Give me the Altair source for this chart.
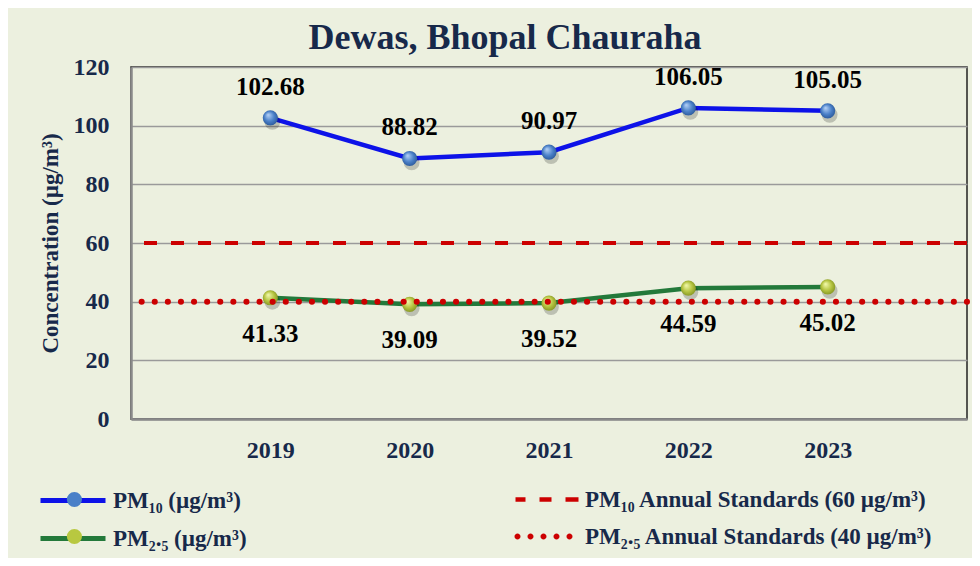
import altair as alt
import pandas as pd

# ---- data ----
years = ["2019", "2020", "2021", "2022", "2023"]
pm10 = [102.68, 88.82, 90.97, 106.05, 105.05]
pm25 = [41.33, 39.09, 39.52, 44.59, 45.02]
std_values = [60, 40]

S10 = "PM₁₀ (µg/m³)"
S25 = "PM₂.₅ (µg/m³)"
STD10 = "PM₁₀ Annual Standards (60 µg/m³)"
STD25 = "PM₂.₅ Annual Standards (40 µg/m³)"
series_names = [S10, S25]
std_names = [STD10, STD25]

df = pd.DataFrame({
    "year": years * 2,
    "value": pm10 + pm25,
    "series": [S10] * len(years) + [S25] * len(years),
    "key": ["pm10"] * len(years) + ["pm25"] * len(years),
})
std_df = pd.DataFrame({"std": std_names, "value": std_values, "key": ["s10", "s25"]})

FONT = "Liberation Serif"
NAVY = "#17294a"
RED = "#cc0000"
BLUE = "#0d12e8"
GREEN = "#23793a"

x = alt.X("year:O", scale=alt.Scale(type="point", padding=1),
          axis=alt.Axis(title=None, labelAngle=0, grid=False, ticks=False,
                        labelPadding=19, domainColor="#8a8a8a", domainWidth=2.5))
y = alt.Y("value:Q", scale=alt.Scale(domain=[0, 120]),
          axis=alt.Axis(values=list(range(0, 121, 20)), title="Concentration (µg/m³)",
                        ticks=False, labelPadding=22, titlePadding=11,
                        domainColor="#8a8a8a", domainWidth=2.5,
                        gridColor="#9a9a9a", gridWidth=1.5))

# legend geometry (symbols drawn wider than their nominal size, so rows stay compact)
LEG_X, LEG_Y = -93, 421
LEG_X2 = 381
NOM = 400          # nominal symbol size -> 20 px box, unit = 10 px
common_leg = dict(title=None, orient="none", direction="vertical",
                  labelFont=FONT, labelFontSize=23, labelFontWeight="bold",
                  labelColor=NAVY, rowPadding=13, labelLimit=500)

LINE_PATH = "M-1,0H5.5"     # 65 px wide line starting at the box's left edge

lines = alt.Chart(df).mark_line(strokeWidth=4.5).encode(
    x=x, y=y,
    color=alt.Color("series:N", scale=alt.Scale(domain=series_names, range=[BLUE, GREEN]),
                    legend=alt.Legend(legendX=LEG_X, legendY=LEG_Y, symbolType=LINE_PATH,
                                      symbolSize=NOM, symbolStrokeWidth=5, labelOffset=50,
                                      zindex=1, **common_leg)),
)

# invisible layer that only provides the ball symbols of the legend
ball_leg = alt.Chart(df).mark_circle(opacity=0, size=10).encode(
    x=x, y=y,
    fill=alt.Fill("key:N", scale=alt.Scale(domain=["pm10", "pm25"], range=["#4a80c8", "#b8c840"]),
                  legend=alt.Legend(legendX=LEG_X + 32.5 - 7.6, legendY=LEG_Y, symbolType="circle",
                                    symbolSize=230, symbolStrokeWidth=0, symbolOpacity=1,
                                    labelExpr="''", labelOffset=8, zindex=2, **common_leg)),
)


def balls(key, c0, c1, c2):
    grad = alt.RadialGradient(
        gradient="radial",
        stops=[alt.GradientStop(offset=0, color=c0),
               alt.GradientStop(offset=0.55, color=c1),
               alt.GradientStop(offset=1, color=c2)],
        x1=0.35, y1=0.3, r1=0, x2=0.5, y2=0.5, r2=0.6)
    base = alt.Chart(df).transform_filter(alt.datum.key == key)
    shadow = base.mark_circle(size=250, color="#000000", opacity=0.2,
                              xOffset=2, yOffset=4).encode(x=x, y=y)
    ball = base.mark_circle(size=230, fill=grad, opacity=1).encode(x=x, y=y)
    return shadow, ball


sh10, b10 = balls("pm10", "#b8d4f8", "#4a80c8", "#24508f")
sh25, b25 = balls("pm25", "#f4fbb0", "#b5c440", "#788a1c")

rule10 = alt.Chart(std_df).transform_filter(alt.datum.key == "s10").mark_rule(
    color=RED, strokeWidth=4, strokeDash=[13, 14]).encode(y=alt.Y("value:Q"))
rule25 = alt.Chart(std_df).transform_filter(alt.datum.key == "s25").mark_rule(
    color=RED, strokeWidth=6, strokeDash=[0.1, 13], strokeCap="round").encode(y=alt.Y("value:Q"))


def dots_path(centers, r):
    parts = []
    for c in centers:
        parts.append(f"M{c - r},0A{r},{r},0,1,0,{c + r},0A{r},{r},0,1,0,{c - r},0Z")
    return "".join(parts)


def rects_path(spans, h):
    return "".join(f"M{a},{-h}H{b}V{h}H{a}Z" for a, b in spans)


# units of 10 px, box left edge at -1
DASH_PATH = rects_path([(-0.8, 0.2), (1.6, 2.8), (4.2, 5.5)], 0.22)
DOT_PATH = dots_path([-0.6, 0.7, 2.0, 3.3, 4.6], 0.3)

std_leg = alt.Chart(std_df).mark_point(filled=True, opacity=0, color=RED).encode(
    y=alt.Y("value:Q"),
    shape=alt.Shape("std:N", scale=alt.Scale(domain=std_names, range=[DASH_PATH, DOT_PATH]),
                    legend=alt.Legend(legendX=LEG_X2, legendY=LEG_Y, symbolSize=NOM,
                                      symbolFillColor=RED, symbolStrokeWidth=0,
                                      symbolOpacity=1, labelOffset=50, **common_leg)),
)

lab10 = alt.Chart(df).transform_filter(alt.datum.key == "pm10").mark_text(
    font=FONT, fontSize=25, fontWeight="bold", color="black", dy=-31, baseline="middle"
).encode(x=x, y=y, text=alt.Text("value:Q", format=".2f"))

lab25 = alt.Chart(df).transform_filter(alt.datum.key == "pm25").mark_text(
    font=FONT, fontSize=25, fontWeight="bold", color="black", dy=36, baseline="middle"
).encode(x=x, y=y, text=alt.Text("value:Q", format=".2f"))

chart = alt.layer(lines, ball_leg, sh10, sh25, b10, b25, rule10, rule25, std_leg,
                  lab10, lab25).properties(
    width=836, height=352,
    padding={"left": 123, "top": 59, "right": 5, "bottom": 139},
    autosize=alt.AutoSizeParams(type="none"),
    background="#ecf0df",
    title=alt.TitleParams("Dewas, Bhopal Chauraha", font=FONT, fontSize=36, fontWeight="bold",
                          color=NAVY, anchor="middle", frame="group", dx=-44, offset=-2),
).configure_view(stroke="#222222", strokeWidth=1.5).configure_axis(
    labelFont=FONT, labelFontSize=24, labelFontWeight="bold", labelColor=NAVY,
    titleFont=FONT, titleFontSize=23, titleFontWeight="bold", titleColor=NAVY,
)

chart.save("out.html", embed_options={"renderer": "svg", "actions": False})
